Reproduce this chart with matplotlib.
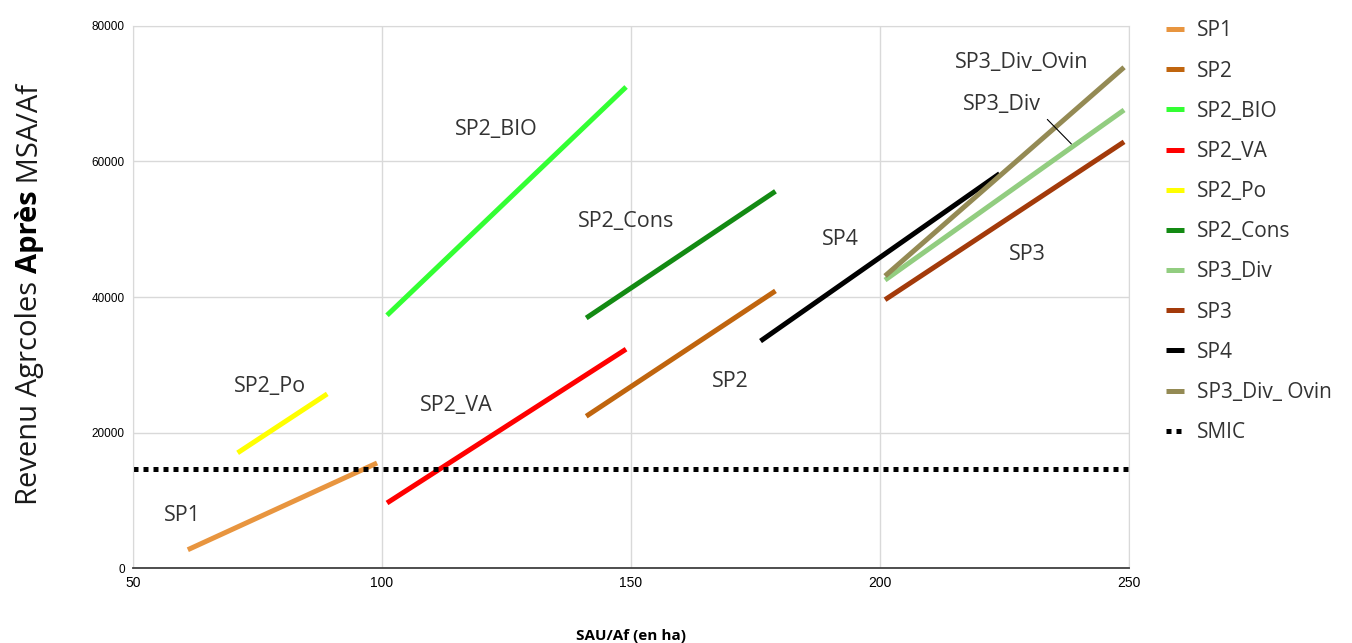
import matplotlib
matplotlib.use("Agg")
import matplotlib.pyplot as plt

# series: start/end points
names = ["SP1", "SP2", "SP2_BIO", "SP2_VA", "SP2_Po", "SP2_Cons",
         "SP3_Div", "SP3", "SP4", "SP3_Div_ Ovin"]
x_start = [61, 141, 101, 101, 71, 141, 201, 201, 176, 201]
x_end = [99, 179, 149, 149, 89, 179, 249, 249, 224, 249]
y_start = [2700, 22400, 37300, 9600, 17000, 36900, 42500, 39600, 33500, 43100]
y_end = [15500, 40900, 71000, 32300, 25700, 55600, 67600, 62900, 58200, 73900]
colors = ["#E8953F", "#C0650E", "#33FF33", "#FF0000", "#FFFF00", "#138A13",
          "#92CD80", "#A33A0A", "#000000", "#948A54"]

smic_x = [50, 250]
smic_y = [14600, 14600]

# in-plot labels
lab_text = ["SP1", "SP2_Po", "SP2_BIO", "SP2_VA", "SP2_Cons", "SP2", "SP4",
            "SP3", "SP3_Div_Ovin", "SP3_Div"]
lab_x = [60, 77.5, 123, 115, 149, 170, 192, 229.5, 228.5, 224.5]
lab_y = [7800, 26800, 64700, 24000, 51100, 27500, 48500, 46300, 74600, 68400]

plt.rcParams["font.family"] = ["Open Sans", "DejaVu Sans"]

fig = plt.figure(figsize=(13.52, 6.43), dpi=100)
ax = fig.add_axes([0.0984, 0.1166, 0.7367, 0.843])

for i in range(len(names)):
    ax.plot([x_start[i], x_end[i]], [y_start[i], y_end[i]], color=colors[i],
            lw=3.6, solid_capstyle="butt", label=names[i])
ax.plot(smic_x, smic_y, color="black", lw=3.6, linestyle=(0, (1, 1)),
        label="SMIC")

for t, x, y in zip(lab_text, lab_x, lab_y):
    ax.text(x, y, t, fontsize=15.5, color="#333333", ha="center", va="center")
# leader line for SP3_Div
ax.annotate("", xy=(238.8, 62300), xytext=(233.2, 66500),
            arrowprops=dict(arrowstyle="-", color="black", lw=0.8))

ax.set_xlim(50, 250)
ax.set_ylim(0, 80000)
ax.set_xticks([50, 100, 150, 200, 250])
ax.set_yticks([0, 20000, 40000, 60000, 80000])
ax.grid(True, color="#d9d9d9", lw=1)
ax.set_axisbelow(True)
for s in ["top", "right", "left"]:
    ax.spines[s].set_color("#d9d9d9")
ax.spines["bottom"].set_color("#404040")
ax.spines["bottom"].set_linewidth(1.3)
ax.tick_params(length=0, labelsize=8.5, pad=6)
for lbl in ax.get_xticklabels() + ax.get_yticklabels():
    lbl.set_family(["Liberation Sans", "DejaVu Sans"])
ax.tick_params(axis="x", labelsize=10)

ax.set_xlabel("SAU/Af (en ha)", fontsize=11, fontweight="bold", labelpad=28)

leg = ax.legend(loc="upper left", bbox_to_anchor=(1.018, 1.045), frameon=False,
                fontsize=15, handlelength=0.9, labelspacing=0.92,
                handletextpad=0.6)
for t in leg.get_texts():
    t.set_color("#333333")

# y label with bold "Après", built from three rotated pieces
fig.canvas.draw()
r = fig.canvas.get_renderer()
parts = [("Revenu Agrcoles ", "normal"), ("Après", "bold"), (" MSA/Af", "normal")]
ypos = 138
for txt, w in parts:
    t = fig.text(30 / 1352, ypos / 643, txt, rotation=90, fontsize=21,
                 fontweight=w, ha="center", va="bottom",
                 color="#000000" if w == "bold" else "#1a1a1a")
    bb = t.get_window_extent(renderer=r)
    ypos += bb.height

fig.savefig("out.png", dpi=100)
